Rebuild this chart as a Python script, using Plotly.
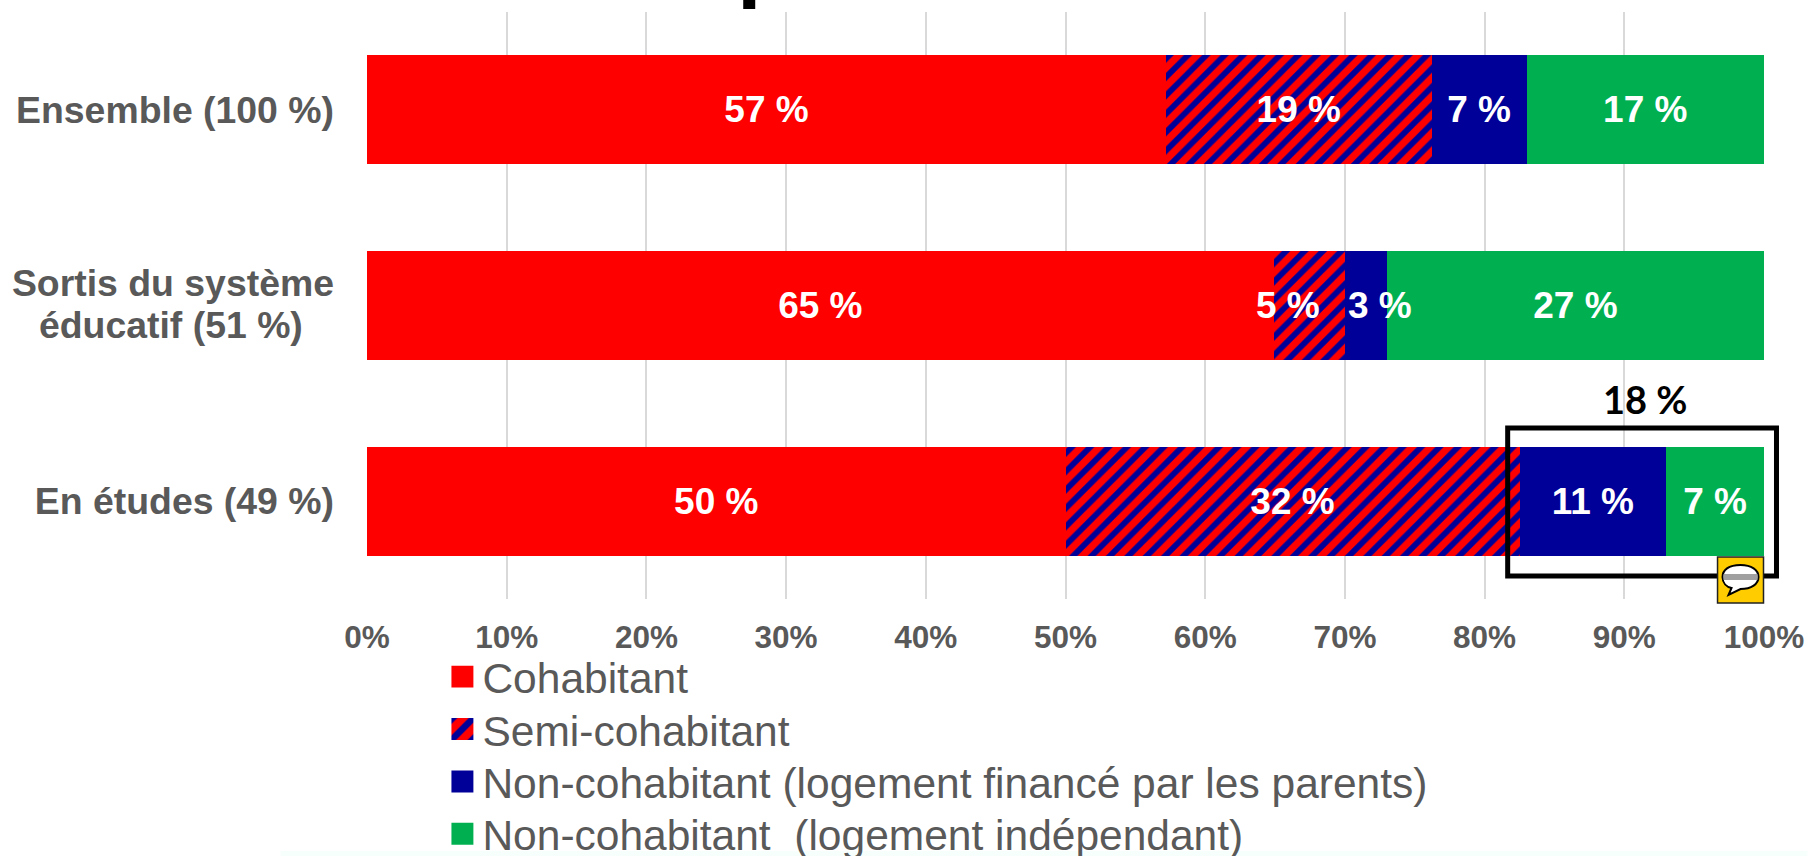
import plotly.graph_objects as go

categories = ["Ensemble (100 %)", "Sortis du système éducatif (51 %)", "En études (49 %)"]
tick_labels = ["Ensemble (100 %)", "Sortis du système<br>éducatif (51 %)\u00a0\u00a0\u00a0", "En études (49 %)"]
cohabitant = [57.2, 64.9, 50.0]
semi_cohabitant = [19.0, 5.1, 32.5]
non_cohabitant_parents = [6.8, 3.0, 10.5]
non_cohabitant_independant = [17.0, 27.0, 7.0]
labels_cohabitant = ["57 %", "65 %", "50 %"]
labels_semi = ["19 %", "", "32 %"]
labels_parents = ["7 %", "", "11 %"]
labels_independant = ["17 %", "27 %", "7 %"]
x_ticks = list(range(0, 101, 10))

RED, BLUE, GREEN = "#FF0000", "#000099", "#00B050"
GREY = "#595959"
W, H = 1808, 856
ML, MR, MT, MB = 366.5, 43.5, 12, 257
PW, PH = W - ML - MR, H - MT - MB


def px(v):
    return (v - ML) / PW


def py(v):
    return 1 - (v - MT) / PH


label_font = dict(family="Liberation Sans, Arial, sans-serif", size=37, color="white", weight="bold")
fig = go.Figure()
for name, vals, txt, color, pattern in [
    ("Cohabitant", cohabitant, labels_cohabitant, RED, None),
    ("Semi-cohabitant", semi_cohabitant, labels_semi, RED,
     dict(shape="/", bgcolor=RED, fgcolor=BLUE, size=13, solidity=0.45, fillmode="replace")),
    ("Non-cohabitant (logement financé par les parents)", non_cohabitant_parents, labels_parents, BLUE, None),
    ("Non-cohabitant  (logement indépendant)", non_cohabitant_independant, labels_independant, GREEN, None),
]:
    marker = dict(color=color, line=dict(width=0))
    if pattern:
        marker["pattern"] = pattern
    fig.add_trace(go.Bar(
        name=name, y=categories, x=vals, orientation="h", marker=marker,
        text=txt, textposition="inside", insidetextanchor="middle", textangle=0,
        constraintext="none", insidetextfont=label_font, cliponaxis=False,
    ))

annotations = [
    # labels displaced off-centre in the reference
    dict(x=cohabitant[1] + 1.0, y=categories[1], xref="x", yref="y", text="5 %", showarrow=False,
         font=label_font, xanchor="center", yanchor="middle"),
    dict(x=cohabitant[1] + semi_cohabitant[1] + 2.5, y=categories[1], xref="x", yref="y", text="3 %", showarrow=False,
         font=label_font, xanchor="center", yanchor="middle"),
    dict(x=px(1645), y=py(399), xref="paper", yref="paper", text="18 %", showarrow=False,
         xanchor="center", yanchor="middle",
         font=dict(family="Lato, sans-serif", size=38, color="black", weight="bold")),
]

shapes = [
    # faint strip at the bottom of the picture
    dict(type="rect", xref="paper", yref="paper", x0=px(280), x1=px(W), y0=py(851), y1=py(H),
         fillcolor="#F7FFFD", line_width=0, layer="below"),
    # black fragment on the top edge
    dict(type="rect", xref="paper", yref="paper", x0=px(743), x1=px(755), y0=py(0), y1=py(9),
         fillcolor="black", line_width=0),
    # highlight box
    dict(type="rect", xref="paper", yref="paper", x0=px(1508), x1=px(1777), y0=py(428), y1=py(576),
         line=dict(color="black", width=5), fillcolor="rgba(0,0,0,0)"),
    # note icon
    dict(type="rect", xref="paper", yref="paper", x0=px(1718), x1=px(1764), y0=py(557), y1=py(603),
         fillcolor="#FFCC00", line=dict(color="#222222", width=1.5)),
    dict(type="path", xref="paper", yref="paper", line=dict(color="black", width=2), fillcolor="white",
         path=(f"M {px(1741)} {py(565)} "
               f"C {px(1729)} {py(565)} {px(1723)} {py(570)} {px(1723)} {py(577)} "
               f"C {px(1723)} {py(583)} {px(1727)} {py(587)} {px(1732)} {py(588)} "
               f"L {px(1729)} {py(595)} L {px(1741)} {py(589)} "
               f"C {px(1752)} {py(589)} {px(1759)} {py(584)} {px(1759)} {py(577)} "
               f"C {px(1759)} {py(570)} {px(1752)} {py(565)} {px(1741)} {py(565)} Z")),
    dict(type="rect", xref="paper", yref="paper", x0=px(1724), x1=px(1758), y0=py(574), y1=py(580),
         fillcolor="#A0A0A0", line_width=0),
]

fig.update_layout(
    width=W, height=H, autosize=False,
    margin=dict(l=ML, r=MR, t=MT, b=MB, pad=0, autoexpand=False),
    barmode="stack", bargap=0.443,
    paper_bgcolor="white", plot_bgcolor="white",
    font=dict(family="Liberation Sans, Arial, sans-serif", color=GREY),
    xaxis=dict(range=[0, 100], tickmode="array", tickvals=x_ticks, ticktext=[f"{v}%" for v in x_ticks],
               showgrid=True, gridcolor="#D9D9D9", gridwidth=2, zeroline=False, showline=False,
               ticks="", ticklabelstandoff=16, automargin=False, tickangle=0,
               tickfont=dict(size=31.5, color=GREY, weight="bold")),
    yaxis=dict(autorange="reversed", categoryorder="array", categoryarray=categories,
               tickmode="array", tickvals=categories, ticktext=tick_labels,
               showgrid=False, zeroline=False, showline=False, ticks="", ticklabelstandoff=32,
               automargin=False, tickfont=dict(size=37.4, color=GREY, weight="bold")),
    legend=dict(xref="container", yref="container", x=0.2447, y=1 - 642.5 / H, xanchor="left", yanchor="top",
                orientation="v", traceorder="normal", bgcolor="rgba(0,0,0,0)", borderwidth=0,
                font=dict(size=42.5, color=GREY), itemsizing="constant", tracegroupgap=0,
                itemwidth=30, itemclick=False, itemdoubleclick=False),
    annotations=annotations, shapes=shapes,
)

post = """
document.body.style.margin = '0';
document.documentElement.style.overflow = 'hidden';
document.querySelectorAll('.legend .legendbar path, .legend .legendpoints path').forEach(function(p){
  p.setAttribute('transform', (p.getAttribute('transform')||'') + ' scale(1.83)');
});
var rows = document.querySelectorAll('.legend .traces');
var y0 = null;
rows.forEach(function(r, i){
  var m = /translate\\(([^,]+),\\s*([^)]+)\\)/.exec(r.getAttribute('transform'));
  if (!m) return;
  if (y0 === null) y0 = parseFloat(m[2]);
  r.setAttribute('transform', 'translate(' + m[1] + ',' + (y0 + 52.4 * i) + ')');
});
document.querySelectorAll('.ytick text tspan.line').forEach(function(t){
  var dy = t.getAttribute('dy');
  if (dy === '1.3em') { t.setAttribute('dy', '1.18em'); }
  else if (dy === '0em') { t.setAttribute('dy', '0.04em'); }
});
"""
fig.write_html("out.html", post_script=post, config=dict(displayModeBar=False))
